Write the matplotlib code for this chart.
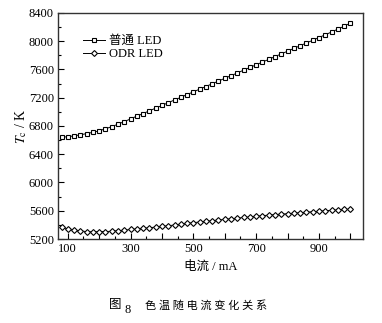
import matplotlib
matplotlib.use('Agg')
import matplotlib.pyplot as plt
from matplotlib.ticker import MultipleLocator, FuncFormatter

# drive current, mA
current = list(range(80, 1001, 20))

# colour temperature of the ordinary LED, K
tc_normal = [6640, 6648, 6660, 6675, 6692, 6710, 6732, 6760, 6790, 6826,
             6862, 6900, 6940, 6975, 7015, 7052, 7090, 7130, 7168, 7205,
             7245, 7282, 7322, 7358, 7398, 7435, 7475, 7512, 7550, 7590,
             7628, 7665, 7705, 7742, 7782, 7820, 7858, 7898, 7935, 7975,
             8012, 8052, 8090, 8130, 8170, 8212, 8255]

# colour temperature of the ODR LED, K
tc_odr = [5375, 5340, 5325, 5315, 5305, 5300, 5305, 5305, 5310, 5318,
          5325, 5335, 5342, 5350, 5360, 5368, 5378, 5388, 5398, 5410,
          5420, 5432, 5440, 5450, 5460, 5468, 5478, 5486, 5495, 5505,
          5512, 5522, 5530, 5538, 5545, 5552, 5558, 5565, 5572, 5580,
          5586, 5594, 5600, 5606, 5612, 5618, 5622]

series_labels = ['普通 LED', 'ODR LED']

plt.rcParams['font.family'] = ['Liberation Serif', 'Noto Sans CJK SC']
plt.rcParams['mathtext.fontset'] = 'stix'

fig = plt.figure(figsize=(3.82, 3.23), dpi=100)
ax = fig.add_axes([0.152, 0.26, 0.798, 0.70])

ax.plot(current, tc_normal, color='black', lw=0.7, marker='s', ms=3.2,
        mfc='white', mec='black', mew=0.8, label=series_labels[0])
ax.plot(current, tc_odr, color='black', lw=0.7, marker='D', ms=3.0,
        mfc='white', mec='black', mew=0.8, label=series_labels[1])

ax.set_xlim(69, 1040)
ax.set_ylim(5200, 8400)

ax.xaxis.set_major_locator(MultipleLocator(100))
ax.xaxis.set_minor_locator(MultipleLocator(50))
ax.xaxis.set_major_formatter(FuncFormatter(lambda v, p: '%d' % v if int(round(v)) % 200 == 100 else ''))
ax.yaxis.set_major_locator(MultipleLocator(400))
ax.yaxis.set_minor_locator(MultipleLocator(200))

ax.tick_params(which='both', direction='in', top=False, right=False, labelsize=9, pad=3)
ax.tick_params(which='major', length=4, width=0.8)
ax.tick_params(which='minor', length=2.5, width=0.8)
for s in ax.spines.values():
    s.set_linewidth(1.0)
    s.set_color('#333333')

ax.set_ylabel(r'$T_{\rm c}$ / K', fontsize=10, labelpad=0)
ax.set_xlabel('电流 / mA', fontsize=9, labelpad=4)

leg = ax.legend(loc='upper left', bbox_to_anchor=(0.065, 0.925), frameon=False,
                fontsize=9, handlelength=1.8, handletextpad=0.3,
                labelspacing=0.1, borderaxespad=0)

fig.text(0.285, 0.045, '图', fontsize=9, ha='left', va='baseline')
fig.text(0.325, 0.030, '8', fontsize=9, ha='left', va='baseline')
fig.text(0.38, 0.045, '色 温 随 电 流 变 化 关 系', fontsize=8, ha='left', va='baseline')

fig.savefig('out.png', dpi=100)
